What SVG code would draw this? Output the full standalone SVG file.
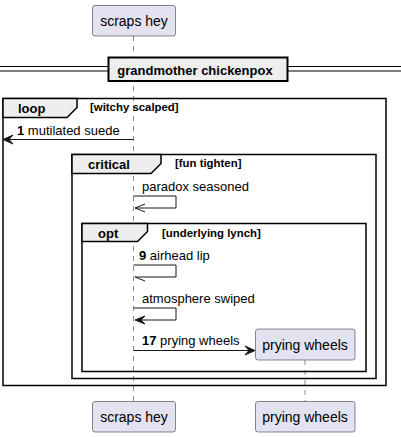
<svg xmlns="http://www.w3.org/2000/svg" width="401" height="437" viewBox="0 0 401 437">
<style>
.part{fill:#E2E2F0;stroke:#181818;stroke-width:0.5}
.ptxt{font-family:"Liberation Sans",Arial,sans-serif;font-size:14px;fill:#000;text-anchor:middle}
.life{stroke:#181818;stroke-width:0.5;stroke-dasharray:5,5;fill:none}
.frame{fill:none;stroke:#000;stroke-width:1.5}
.tab{fill:#EEEEEE;stroke:#000;stroke-width:1.5}
.flab{font-family:"Liberation Sans",Arial,sans-serif;font-size:13px;font-weight:bold;fill:#000}
.cond{font-family:"Liberation Sans",Arial,sans-serif;font-size:11.4px;font-weight:bold;fill:#000}
.msg{font-family:"Liberation Sans",Arial,sans-serif;font-size:13px;fill:#000}
.line{stroke:#181818;stroke-width:1;fill:none}
.head{fill:#181818;stroke:#181818;stroke-width:1}
</style>
<g id="lifelines">
<line class="life" x1="133.5" y1="36" x2="133.5" y2="402"/>
<line class="life" x1="305" y1="360" x2="305" y2="402"/>
</g>
<g id="divider">
<line x1="0" y1="66.5" x2="401" y2="66.5" stroke="#000" stroke-width="1"/>
<line x1="0" y1="71" x2="401" y2="71" stroke="#000" stroke-width="1"/>
<rect x="108.5" y="57.5" width="179" height="23.5" fill="#EEEEEE" stroke="#000" stroke-width="2"/>
<text class="flab" x="195" y="75" text-anchor="middle">grandmother chickenpox</text>
</g>
<g id="frame-loop">
<rect class="frame" x="3" y="98.5" width="383" height="287"/>
<path class="tab" d="M3,98.5 H77 V107.5 L67,117.5 H3 Z"/>
<text class="flab" x="18" y="113">loop</text>
<text class="cond" x="90" y="111">[witchy scalped]</text>
</g>
<g id="frame-critical">
<rect class="frame" x="72" y="154.5" width="304" height="224"/>
<path class="tab" d="M72,154.5 H161 V163.5 L151,173.5 H72 Z"/>
<text class="flab" x="88" y="169">critical</text>
<text class="cond" x="175" y="167">[fun tighten]</text>
</g>
<g id="frame-opt">
<rect class="frame" x="82" y="223.5" width="284" height="148"/>
<path class="tab" d="M82,223.5 H147.5 V231.5 L137.5,241.5 H82 Z"/>
<text class="flab" x="98" y="238">opt</text>
<text class="cond" x="162" y="236.5">[underlying lynch]</text>
</g>
<g id="connectors">
<g id="m1">
<line class="line" x1="133.5" y1="139.5" x2="4" y2="139.5"/>
<polygon class="head" points="3,139.5 13,135 9,139.5 13,144"/>
<text class="msg" x="17" y="135"><tspan font-weight="bold">1</tspan> mutilated suede</text>
</g>
<g id="m-paradox">
<polyline class="line" points="133.5,196 176,196 176,208 135,208"/>
<polyline class="line" points="145,204 135,208 145,212"/>
<text class="msg" x="142" y="191">paradox seasoned</text>
</g>
<g id="m9">
<polyline class="line" points="133.5,265 176,265 176,277 135,277"/>
<line class="line" x1="135" y1="277" x2="145" y2="281"/>
<text class="msg" x="139" y="260"><tspan font-weight="bold">9</tspan> airhead lip</text>
</g>
<g id="m-atmos">
<polyline class="line" points="133.5,308 176,308 176,320 140,320"/>
<polygon class="head" points="135,320 145,316 141,320 145,324"/>
<text class="msg" x="142" y="303">atmosphere swiped</text>
</g>
<g id="m17">
<line class="line" x1="133.5" y1="350.5" x2="250" y2="350.5"/>
<polygon class="head" points="255,350.5 245,346 249,350.5 245,355"/>
<text class="msg" x="142" y="345"><tspan font-weight="bold">17</tspan> prying wheels</text>
</g>
</g>
<g id="scraps-hey-top">
<rect class="part" x="92.5" y="5.5" width="83" height="30.5" rx="2.5"/>
<text class="ptxt" x="134" y="26">scraps hey</text>
</g>
<g id="prying-wheels-created">
<rect class="part" x="255.5" y="329" width="99.5" height="31" rx="2.5"/>
<text class="ptxt" x="305" y="350">prying wheels</text>
</g>
<g id="scraps-hey-bottom">
<rect class="part" x="92.5" y="401.5" width="83" height="30.5" rx="2.5"/>
<text class="ptxt" x="134" y="422">scraps hey</text>
</g>
<g id="prying-wheels-bottom">
<rect class="part" x="255.5" y="401.5" width="99.5" height="30.5" rx="2.5"/>
<text class="ptxt" x="305" y="422">prying wheels</text>
</g>
</svg>
